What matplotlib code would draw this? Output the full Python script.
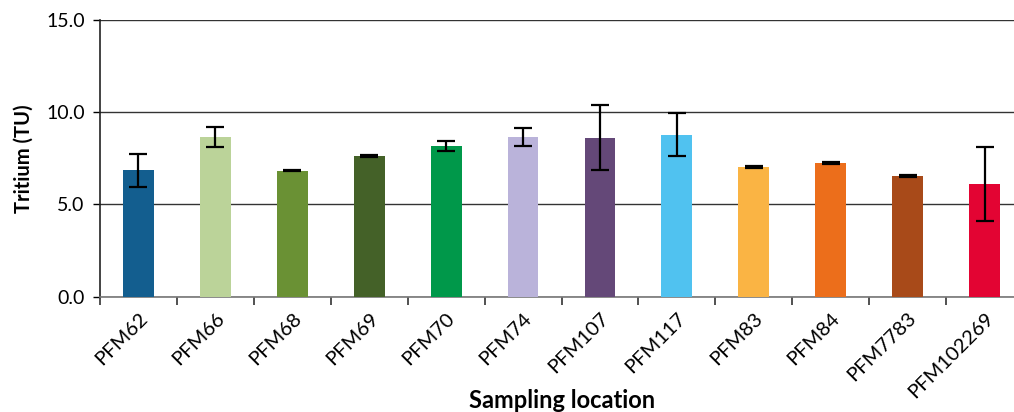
import matplotlib.pyplot as plt
import numpy as np

# tritium per sampling location (TU), with error
locations = ['PFM62', 'PFM66', 'PFM68', 'PFM69', 'PFM70', 'PFM74',
             'PFM107', 'PFM117', 'PFM83', 'PFM84', 'PFM7783', 'PFM102269']
tritium = [6.85, 8.67, 6.84, 7.63, 8.17, 8.66, 8.61, 8.79, 7.03, 7.26, 6.56, 6.12]
errors = [0.9, 0.53, 0.05, 0.04, 0.27, 0.49, 1.76, 1.18, 0.03, 0.04, 0.05, 2.02]
bar_colors = ['#135E8F', '#BBD399', '#6A9134', '#446128', '#00984A', '#BAB3DA',
              '#644878', '#50C2F0', '#FAB444', '#EC6E1B', '#A84A19', '#E30433']

plt.rcParams['font.family'] = ['Lato', 'DejaVu Sans']

fig = plt.figure(figsize=(10.14, 4.12), dpi=100)
ax = fig.add_axes([100 / 1014, 115.3 / 412, 923 / 1014, 276.7 / 412])

x = np.arange(len(locations))
ax.bar(x, tritium, width=0.4, color=bar_colors, zorder=3)
ax.errorbar(x, tritium, yerr=errors, fmt='none', ecolor='black',
            elinewidth=1.6, capsize=6.5, capthick=1.6, zorder=4)

ax.set_ylim(0, 15)
ax.set_xlim(-0.5, len(locations) - 0.5)
ax.set_yticks([0, 5, 10, 15])
ax.set_yticklabels([f'{v:.1f}' for v in [0, 5, 10, 15]], fontsize=14)
ax.yaxis.grid(True, color='#333333', linewidth=1.0, zorder=0)

# category labels at bar centres, tick marks at category boundaries
ax.set_xticks(x)
ax.set_xticklabels(locations, rotation=45, ha='right', rotation_mode='anchor',
                   fontsize=14.5)
ax.tick_params(axis='x', which='major', length=0, pad=9)
ax.set_xticks(np.arange(len(locations) + 1) - 0.5, minor=True)
ax.tick_params(axis='x', which='minor', length=6, width=1.2, color='#333333')
ax.tick_params(axis='y', length=5, width=1.0, pad=6)

for side in ['top', 'right']:
    ax.spines[side].set_visible(False)
ax.spines['left'].set_color('#222222')
ax.spines['bottom'].set_color('#777777')
ax.spines['left'].set_linewidth(1.2)
ax.spines['bottom'].set_linewidth(1.2)

ax.set_ylabel('Tritium (TU)', fontsize=14.5, fontweight='bold', labelpad=9)
fig.text(562 / 1014, 1 - 400 / 412, 'Sampling location', fontsize=17,
         fontweight='bold', ha='center', va='center')

plt.savefig('out.png', dpi=100)
